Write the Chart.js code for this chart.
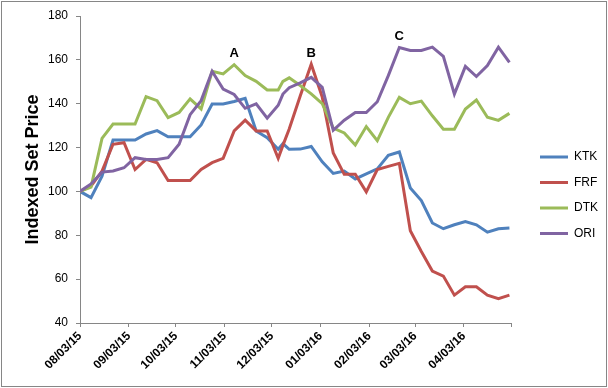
<!DOCTYPE html>
<html>
<head>
<meta charset="utf-8">
<script src="https://cdn.jsdelivr.net/npm/chart.js@4.4.1/dist/chart.umd.min.js"></script>
<style>
    html, body { margin: 0; padding: 0; background: #fff; }
    #chart { display: block; }
</style>
</head>
<body>
<canvas id="chart" width="608" height="388"></canvas>
<script>
// Weekly set prices, indexed to 100 on the first date
const startDate = '2015-08-03';
const pointDates = [
    '2015-08-03', '2015-08-10', '2015-08-17', '2015-08-24', '2015-08-31',
    '2015-09-07', '2015-09-14', '2015-09-21', '2015-09-28', '2015-10-05',
    '2015-10-12', '2015-10-19', '2015-10-26', '2015-11-02', '2015-11-09',
    '2015-11-16', '2015-11-23', '2015-11-30', '2015-12-07', '2015-12-10',
    '2015-12-14', '2015-12-21', '2015-12-28', '2016-01-04', '2016-01-11',
    '2016-01-18', '2016-01-25', '2016-02-01', '2016-02-08', '2016-02-15',
    '2016-02-22', '2016-02-29', '2016-03-07', '2016-03-14', '2016-03-21',
    '2016-03-28', '2016-04-04', '2016-04-11', '2016-04-18', '2016-04-25',
    '2016-05-02'
];

const ktk = [100, 97.2, 107, 123.4, 123.4, 123.4, 126.2, 127.7, 124.9, 124.9,
    124.9, 130.3, 139.9, 139.9, 141, 142.5, 127.6, 124.5, 119.2, 121.8,
    119.2, 119.3, 120.5, 113.5, 108.2, 109.3, 105.7, 108, 110.3, 116.5,
    118, 101.6, 95.8, 85.6, 83, 84.8, 86.3, 84.8, 81.4, 83, 83.3];
const frf = [100, 102.4, 109.3, 121.5, 122.2, 110, 114.6, 113.1, 105, 105,
    105, 110, 113.1, 115.1, 127.6, 132.5, 127.6, 127.6, 115.1, 121,
    128.5, 143.5, 158, 143, 117.5, 107.8, 107.8, 99.8, 110, 111.4,
    112.8, 82.1, 72.6, 63.7, 61.4, 52.7, 56.5, 56.5, 52.7, 51.1, 52.7];
const dtk = [100, 102, 124.2, 130.7, 130.7, 130.7, 143.2, 141.4, 133.7, 136,
    142.2, 137.6, 154.8, 153.6, 157.8, 152.8, 150.2, 146.3, 146.3, 150.2,
    151.8, 148.3, 144.5, 140, 128.9, 126.7, 121.2, 129.6, 123.2, 133.8,
    142.9, 140, 141.2, 134.5, 128.4, 128.4, 137.6, 141.7, 133.8, 132.4, 135.6];
const ori = [100, 103.4, 108.8, 109.3, 110.8, 115.4, 114.6, 114.6, 115.4, 121.5,
    135, 141.4, 154.8, 146.7, 144.2, 137.9, 139.9, 133.4, 139.3, 144.4,
    147.3, 149.5, 152, 147.5, 127.9, 132.5, 136, 136, 140.9, 152.8,
    165.6, 164.3, 164.3, 165.8, 161.6, 144.4, 157, 152.4, 157.4, 165.8, 158.9];

const seriesNames = ['KTK', 'FRF', 'DTK', 'ORI'];
const seriesValues = [ktk, frf, dtk, ori];
const seriesColors = ['#4F81BD', '#C0504D', '#9BBB59', '#8064A2'];

// Month ticks on the date axis (last one has no label)
const tickDates = ['2015-08-03', '2015-09-03', '2015-10-03', '2015-11-03', '2015-12-03',
    '2016-01-03', '2016-02-03', '2016-03-03', '2016-04-03', '2016-05-03'];
const tickLabels = ['08/03/15', '09/03/15', '10/03/15', '11/03/15', '12/03/15',
    '01/03/16', '02/03/16', '03/03/16', '04/03/16', ''];

// Letter notes above peaks
const noteLabels = ['A', 'B', 'C'];
const noteSeries = ['DTK', 'FRF', 'ORI'];
const noteDates = ['2015-11-09', '2015-12-28', '2016-02-22'];

const dayOf = s => (Date.parse(s) - Date.parse(startDate)) / 86400000;
const tickDays = tickDates.map(dayOf);
const pointDays = pointDates.map(dayOf);

const FONT = "'Liberation Sans', Arial, sans-serif";
const AXIS_GREY = '#868686';
Chart.defaults.font.family = FONT;
Chart.defaults.color = '#000';

const notesPlugin = {
    id: 'notes',
    afterDatasetsDraw(chart) {
        const ctx = chart.ctx;
        ctx.save();
        ctx.font = 'bold 13px ' + FONT;
        ctx.fillStyle = '#000';
        ctx.textAlign = 'center';
        ctx.textBaseline = 'middle';
        noteLabels.forEach((label, i) => {
            const ds = seriesNames.indexOf(noteSeries[i]);
            const idx = pointDates.indexOf(noteDates[i]);
            const pt = chart.getDatasetMeta(ds).data[idx];
            ctx.fillText(label, pt.x, pt.y - 11);
        });
        ctx.restore();
    }
};

const framePlugin = {
    id: 'frame',
    afterDraw(chart) {
        const ctx = chart.ctx;
        ctx.save();
        ctx.strokeStyle = AXIS_GREY;
        ctx.lineWidth = 1;
        ctx.strokeRect(1.5, 1.5, chart.width - 3, chart.height - 3);
        ctx.restore();
    }
};

new Chart(document.getElementById('chart'), {
    type: 'line',
    data: {
        datasets: seriesNames.map((name, i) => ({
            label: name,
            data: seriesValues[i].map((v, j) => ({ x: pointDays[j], y: v })),
            borderColor: seriesColors[i],
            backgroundColor: seriesColors[i],
            borderWidth: 3,
            pointRadius: 0,
            tension: 0,
            fill: false,
            order: seriesNames.length - 1 - i
        }))
    },
    options: {
        responsive: false,
        animation: false,
        layout: { padding: { left: 0, top: 16, right: 0, bottom: 13.5 } },
        plugins: {
            tooltip: { enabled: false },
            legend: {
                position: 'right',
                labels: {
                    font: { size: 12 },
                    color: '#000',
                    usePointStyle: true,
                    pointStyle: 'line',
                    pointStyleWidth: 28,
                    padding: 13.5,
                    sort: (a, b) => a.datasetIndex - b.datasetIndex
                }
            }
        },
        scales: {
            x: {
                type: 'linear',
                min: 0,
                max: tickDays[tickDays.length - 1],
                afterBuildTicks: s => { s.ticks = tickDays.map(v => ({ value: v })); },
                afterFit: s => { s.height = 51.5; },
                grid: { display: true, drawOnChartArea: false, drawTicks: true, tickLength: 4, color: AXIS_GREY },
                border: { display: true, color: AXIS_GREY },
                ticks: {
                    autoSkip: false,
                    minRotation: 45,
                    maxRotation: 45,
                    padding: 2,
                    font: { size: 12, weight: 'bold' },
                    color: '#000',
                    callback: v => {
                        const i = tickDays.indexOf(v);
                        return i >= 0 ? tickLabels[i] : '';
                    }
                }
            },
            y: {
                min: 40,
                max: 180,
                afterFit: s => { s.width = 80; },
                grid: { display: true, drawOnChartArea: false, drawTicks: true, tickLength: 4, color: AXIS_GREY },
                border: { display: true, color: AXIS_GREY },
                ticks: { stepSize: 20, padding: 8, font: { size: 12 }, color: '#000' },
                title: {
                    display: true,
                    text: 'Indexed Set Price',
                    font: { size: 18, weight: 'bold' },
                    color: '#000',
                    padding: { top: 22, bottom: 0 }
                }
            },
            gap: {
                position: 'right',
                display: true,
                afterFit: s => { s.width = 15.5; },
                grid: { display: false },
                border: { display: false },
                ticks: { display: false }
            }
        }
    },
    plugins: [notesPlugin, framePlugin]
});
</script>
</body>
</html>
